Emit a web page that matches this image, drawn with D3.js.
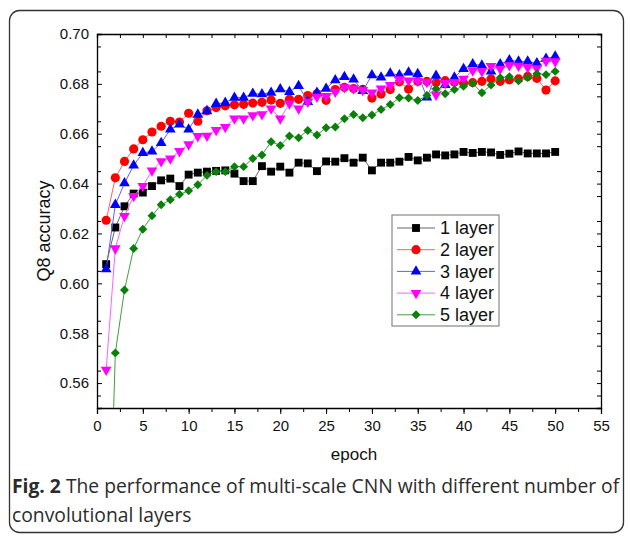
<!DOCTYPE html>
<html>
<head>
<meta charset="utf-8">
<script src="https://cdn.jsdelivr.net/npm/d3@7/dist/d3.min.js"></script>
<style>
  body { margin: 0; background: #fff; }
  svg { display: block; }
</style>
</head>
<body>
<svg width="630" height="536"></svg>
<script>
var epochs = d3.range(1, 51);

var layer1 = [0.6077, 0.6224, 0.6309, 0.636, 0.6364, 0.639, 0.6413, 0.642, 0.639, 0.6436,
  0.6444, 0.6448, 0.6451, 0.6453, 0.644, 0.641, 0.641, 0.647, 0.6448, 0.6468,
  0.6444, 0.6484, 0.6481, 0.645, 0.6489, 0.6488, 0.6502, 0.6484, 0.6504, 0.6453,
  0.6484, 0.6484, 0.6488, 0.6507, 0.6493, 0.6504, 0.6517, 0.6513, 0.6517, 0.6527,
  0.6523, 0.6527, 0.6525, 0.6515, 0.652, 0.6529, 0.6521, 0.6521, 0.6521, 0.6527];

var layer2 = [0.6253, 0.6423, 0.6489, 0.6539, 0.6576, 0.6607, 0.663, 0.665, 0.6647, 0.6682,
  0.665, 0.6692, 0.6705, 0.6712, 0.6716, 0.6718, 0.6723, 0.6726, 0.6735, 0.6722,
  0.6738, 0.6738, 0.6753, 0.676, 0.6734, 0.6777, 0.6786, 0.6781, 0.6778, 0.6743,
  0.6759, 0.6777, 0.6808, 0.6779, 0.681, 0.681, 0.6805, 0.6813, 0.6807, 0.6803,
  0.6805, 0.681, 0.682, 0.681, 0.6816, 0.682, 0.683, 0.6822, 0.6775, 0.6812];

var layer3 = [0.6057, 0.6315, 0.6402, 0.6473, 0.6523, 0.6529, 0.6563, 0.6617, 0.6637, 0.6617,
  0.6677, 0.6691, 0.672, 0.6724, 0.6745, 0.6745, 0.6761, 0.6759, 0.6765, 0.6779,
  0.6768, 0.6792, 0.6728, 0.6765, 0.6781, 0.6815, 0.6828, 0.6818, 0.6772, 0.6835,
  0.6826, 0.6842, 0.6835, 0.6846, 0.684, 0.6746, 0.6833, 0.6796, 0.6826, 0.686,
  0.6879, 0.6874, 0.685, 0.6879, 0.6895, 0.689, 0.689, 0.6883, 0.6901, 0.691];

var layer4 = [0.5653, 0.614, 0.627, 0.635, 0.639, 0.6452, 0.6489, 0.65, 0.653, 0.6557,
  0.659, 0.6592, 0.6615, 0.6627, 0.6661, 0.6661, 0.6674, 0.6678, 0.6701, 0.6661,
  0.6721, 0.6701, 0.6728, 0.6748, 0.6751, 0.6768, 0.6786, 0.6781, 0.6775, 0.6765,
  0.6781, 0.6795, 0.6818, 0.6813, 0.6812, 0.6807, 0.6756, 0.6803, 0.6807, 0.682,
  0.6853, 0.685, 0.6871, 0.686, 0.6874, 0.6872, 0.6866, 0.6862, 0.6892, 0.689];

var layer5 = [0.45, 0.5721, 0.5973, 0.614, 0.6217, 0.6271, 0.6315, 0.6335, 0.6357, 0.6371,
  0.6395, 0.6433, 0.6448, 0.6448, 0.6468, 0.6468, 0.6501, 0.6515, 0.6568, 0.6553,
  0.6591, 0.6584, 0.6613, 0.6595, 0.6624, 0.6627, 0.666, 0.6677, 0.6664, 0.6675,
  0.6697, 0.6717, 0.6744, 0.6743, 0.6733, 0.6753, 0.678, 0.676, 0.6777, 0.679,
  0.6802, 0.6764, 0.6795, 0.6825, 0.6829, 0.6812, 0.6825, 0.6841, 0.6837, 0.685];

var seriesNames = ["1 layer", "2 layer", "3 layer", "4 layer", "5 layer"];
var xTicks = d3.range(0, 56, 5);
var yTicks = [0.56, 0.58, 0.60, 0.62, 0.64, 0.66, 0.68, 0.70];

var svg = d3.select("svg");
var font = "'Liberation Sans', Arial, sans-serif";

var series = [
  { name: seriesNames[0], values: layer1, color: "#000000", line: "#666666", shape: "square", size: 62 },
  { name: seriesNames[1], values: layer2, color: "#ff0000", line: "#ff6060", shape: "circle", size: 66 },
  { name: seriesNames[2], values: layer3, color: "#0000ff", line: "#6060ff", shape: "up", size: 50 },
  { name: seriesNames[3], values: layer4, color: "#ff00ff", line: "#ff60ff", shape: "down", size: 50 },
  { name: seriesNames[4], values: layer5, color: "#0a800a", line: "#40a040", shape: "diamond", size: 40 }
];

// outer figure frame
svg.append("rect")
  .attr("x", 9.5).attr("y", 10.5)
  .attr("width", 614).attr("height", 522)
  .attr("rx", 10)
  .attr("fill", "none")
  .attr("stroke", "#333")
  .attr("stroke-width", 1.3);

var x = d3.scaleLinear().domain([0, 55]).range([97, 601]);
var y = d3.scaleLinear().domain([0.55, 0.70]).range([408, 34]);

var minorX = d3.range(0, 55.1, 2.5);
var minorY = d3.range(0, 15).map(function (i) { return 0.555 + i * 0.01; });

// bottom axis (ticks outward)
svg.append("g")
  .attr("transform", "translate(0,408)")
  .call(d3.axisBottom(x).tickValues(minorX).tickSize(4).tickFormat(""))
  .call(function (g) { g.select(".domain").remove(); });
svg.append("g")
  .attr("transform", "translate(0,408)")
  .call(d3.axisBottom(x).tickValues(xTicks).tickSize(6).tickPadding(6).tickFormat(d3.format("d")))
  .call(function (g) {
    g.select(".domain").attr("stroke-width", 1.3);
    g.selectAll("text").attr("font-family", font).attr("font-size", 15).attr("fill", "#111");
  });

// top axis (ticks inward)
svg.append("g")
  .attr("transform", "translate(0,34)")
  .call(d3.axisTop(x).tickValues(minorX).tickSize(-4).tickFormat(""))
  .call(function (g) { g.select(".domain").attr("stroke-width", 1.3); });

// left axis (ticks inward)
svg.append("g")
  .attr("transform", "translate(97,0)")
  .call(d3.axisLeft(y).tickValues(minorY).tickSize(-4).tickFormat(""))
  .call(function (g) { g.select(".domain").remove(); });
svg.append("g")
  .attr("transform", "translate(97,0)")
  .call(d3.axisLeft(y).tickValues(yTicks).tickSize(-5).tickPadding(8).tickFormat(d3.format(".2f")))
  .call(function (g) {
    g.select(".domain").attr("stroke-width", 1.3);
    g.selectAll("text").attr("font-family", font).attr("font-size", 15).attr("fill", "#111");
  });

// right axis (ticks inward)
svg.append("g")
  .attr("transform", "translate(601,0)")
  .call(d3.axisRight(y).tickValues(minorY.concat(yTicks)).tickSize(-4).tickFormat(""))
  .call(function (g) { g.select(".domain").attr("stroke-width", 1.3); });

// axis titles
svg.append("text")
  .attr("x", 354).attr("y", 460)
  .attr("text-anchor", "middle")
  .attr("font-family", font).attr("font-size", 17).attr("fill", "#111")
  .text("epoch");
svg.append("text")
  .attr("transform", "translate(50,231) rotate(-90)")
  .attr("text-anchor", "middle")
  .attr("font-family", font).attr("font-size", 18).attr("fill", "#111")
  .text("Q8 accuracy");

svg.append("clipPath").attr("id", "plot-clip")
  .append("rect").attr("x", 97).attr("y", 34).attr("width", 504).attr("height", 374);

function symbolPath(shape, size) {
  var type = {
    square: d3.symbolSquare, circle: d3.symbolCircle, up: d3.symbolTriangle,
    down: d3.symbolTriangle, diamond: d3.symbolSquare
  }[shape];
  return d3.symbol().type(type).size(size)();
}
function symbolRotate(shape) {
  if (shape === "down") return " rotate(180)";
  if (shape === "diamond") return " rotate(45)";
  return "";
}

var line = d3.line()
  .x(function (d, i) { return x(epochs[i]); })
  .y(function (d) { return y(d); });

var plot = svg.append("g").attr("clip-path", "url(#plot-clip)");

series.forEach(function (s) {
  var g = plot.append("g");
  g.append("path")
    .attr("d", line(s.values))
    .attr("fill", "none")
    .attr("stroke", s.line)
    .attr("stroke-width", 1);
  g.selectAll("path.pt")
    .data(s.values)
    .enter()
    .append("path")
    .attr("class", "pt")
    .attr("d", symbolPath(s.shape, s.size))
    .attr("transform", function (d, i) {
      return "translate(" + x(epochs[i]) + "," + y(d) + ")" + symbolRotate(s.shape);
    })
    .attr("fill", s.color);
});

// legend
var legend = svg.append("g").attr("transform", "translate(392,215)");
legend.append("rect")
  .attr("x", 0).attr("y", 0)
  .attr("width", 107).attr("height", 111)
  .attr("fill", "#fff")
  .attr("stroke", "#888")
  .attr("stroke-width", 1.2);
series.forEach(function (s, i) {
  var row = legend.append("g").attr("transform", "translate(0," + (13 + i * 21.7) + ")");
  row.append("line")
    .attr("x1", 5).attr("x2", 43)
    .attr("stroke", s.line).attr("stroke-width", 1);
  row.append("path")
    .attr("d", symbolPath(s.shape, s.size))
    .attr("transform", "translate(24,0)" + symbolRotate(s.shape))
    .attr("fill", s.color);
  row.append("text")
    .attr("x", 48).attr("dy", "0.35em")
    .attr("font-family", font).attr("font-size", 18).attr("fill", "#111")
    .text(s.name);
});

// caption
var cap = svg.append("text")
  .attr("font-family", "'Open Sans', sans-serif")
  .attr("font-size", 19.3)
  .attr("fill", "#2b2b2b");
cap.append("tspan").attr("x", 12).attr("y", 493)
  .attr("font-weight", "bold").text("Fig. 2");
cap.append("tspan").text(" The performance of multi-scale CNN with different number of");
cap.append("tspan").attr("x", 12).attr("y", 522)
  .text("convolutional layers");
</script>
</body>
</html>
